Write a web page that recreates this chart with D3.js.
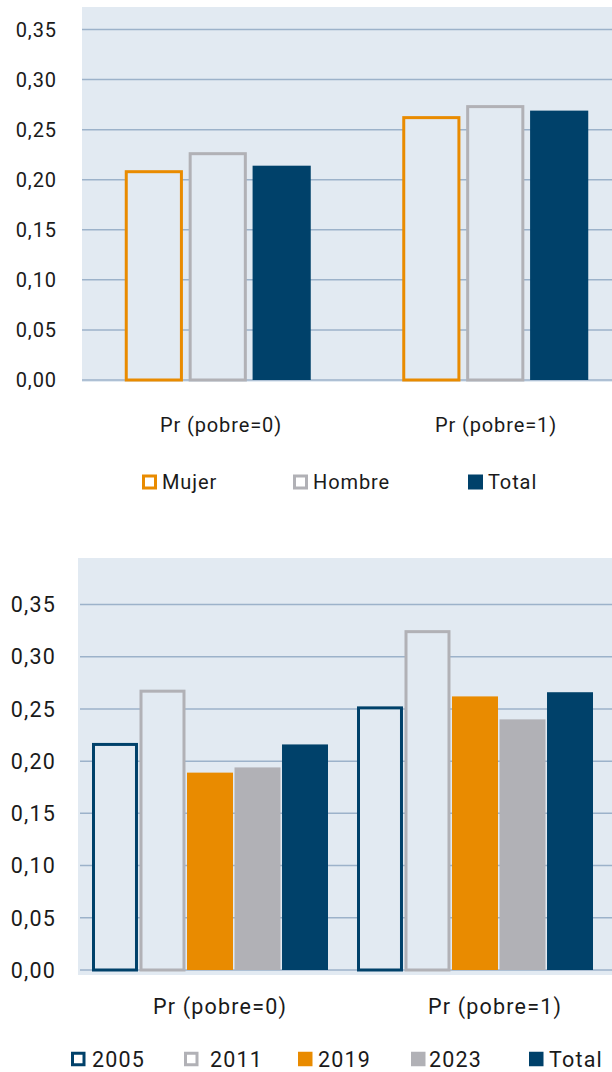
<!DOCTYPE html>
<html>
<head>
<meta charset="utf-8">
<script src="https://cdn.jsdelivr.net/npm/d3@7"></script>
<style>
  html, body { margin: 0; padding: 0; background: #ffffff; }
  svg { display: block; }
  text { font-family: Roboto, "Noto Sans", sans-serif; fill: #1a1a1a; }
</style>
</head>
<body>
<svg id="chart" width="612" height="1072"></svg>
<script>
// ---- data ----
const groups = ["Pr (pobre=0)", "Pr (pobre=1)"];
const yTicks = [0, 0.05, 0.10, 0.15, 0.20, 0.25, 0.30, 0.35];

// Panel 1: by sex
const sexSeries = ["Mujer", "Hombre", "Total"];
const sexMujer  = [0.208, 0.262];
const sexHombre = [0.226, 0.273];
const sexTotal  = [0.214, 0.269];

// Panel 2: by year
const yearSeries = ["2005", "2011", "2019", "2023", "Total"];
const year2005  = [0.216, 0.251];
const year2011  = [0.267, 0.324];
const year2019  = [0.189, 0.262];
const year2023  = [0.194, 0.240];
const yearTotal = [0.216, 0.266];

// ---- styles ----
const NAVY = "#00416a", ORANGE = "#e98b00", GREY = "#b1b1b6";
const PLOT_BG = "#e2eaf2", GRID = "#9cb2ca";

const sexStyle = {
  "Mujer":  { stroke: ORANGE },
  "Hombre": { stroke: GREY },
  "Total":  { fill: NAVY }
};
const yearStyle = {
  "2005":  { stroke: NAVY },
  "2011":  { stroke: GREY },
  "2019":  { fill: ORANGE },
  "2023":  { fill: GREY },
  "Total": { fill: NAVY }
};

const fmt = v => d3.format(".2f")(v).replace(".", ",");
const svg = d3.select("#chart");

function drawPanel(cfg) {
  const g = svg.append("g");
  const y = d3.scaleLinear().domain([0, 0.35]).range([cfg.yZero, cfg.yTop]);

  // plot area
  g.append("rect")
    .attr("x", cfg.bgLeft).attr("y", cfg.bgTop)
    .attr("width", 612 - cfg.bgLeft).attr("height", cfg.bgBottom - cfg.bgTop)
    .attr("fill", PLOT_BG);

  // gridlines
  g.selectAll(".grid").data(yTicks).join("line")
    .attr("x1", cfg.gridLeft).attr("x2", 612)
    .attr("y1", d => y(d)).attr("y2", d => y(d))
    .attr("stroke", GRID).attr("stroke-width", 1.5);

  // y tick labels
  g.selectAll(".ylab").data(yTicks).join("text")
    .attr("x", cfg.labelRight).attr("y", d => y(d))
    .attr("dy", "0.36em").attr("text-anchor", "end")
    .style("font-size", cfg.fontSize + "px")
    .style("letter-spacing", cfg.spacing + "px")
    .text(fmt);

  // scales for bars
  const x0 = d3.scaleBand().domain(groups).range(cfg.groupRange).padding(0);
  const x1 = d3.scaleBand().domain(cfg.series).range(cfg.innerRange)
    .paddingInner(cfg.innerPad).paddingOuter(0);

  const rows = [];
  groups.forEach((grp, i) => {
    cfg.series.forEach((s, j) => {
      rows.push({ grp, s, v: cfg.values[j][i] });
    });
  });

  const sw = cfg.strokeWidth;
  g.selectAll(".bar").data(rows).join("rect")
    .attr("x", d => x0(d.grp) + x1(d.s) + (cfg.style[d.s].stroke ? sw / 2 : 0))
    .attr("width", d => x1.bandwidth() - (cfg.style[d.s].stroke ? sw : 0))
    .attr("y", d => y(d.v))
    .attr("height", d => y(0) - y(d.v))
    .attr("fill", d => cfg.style[d.s].fill || PLOT_BG)
    .attr("stroke", d => cfg.style[d.s].stroke || "none")
    .attr("stroke-width", d => cfg.style[d.s].stroke ? sw : 0);

  // category labels
  const xl = d3.scaleBand().domain(groups).range(cfg.labelRange).padding(0);
  g.selectAll(".xlab").data(groups).join("text")
    .attr("x", d => xl(d) + xl.bandwidth() / 2)
    .attr("y", cfg.catY).attr("dy", "0.36em")
    .attr("text-anchor", "middle")
    .style("font-size", cfg.fontSize + "px")
    .style("letter-spacing", cfg.spacing + "px")
    .text(d => d);

  // legend
  const lg = g.selectAll(".leg").data(cfg.series).join("g")
    .attr("transform", (d, i) => `translate(${cfg.legendX[i]},${cfg.legendY})`);
  const ls = cfg.legendBox;
  lg.append("rect")
    .attr("x", d => cfg.style[d].stroke ? 1.5 : 0)
    .attr("y", d => -ls / 2 + (cfg.style[d].stroke ? 1.5 : 0))
    .attr("width", d => ls - (cfg.style[d].stroke ? 3 : 0))
    .attr("height", d => ls - (cfg.style[d].stroke ? 3 : 0))
    .attr("fill", d => cfg.style[d].fill || "#ffffff")
    .attr("stroke", d => cfg.style[d].stroke || "none")
    .attr("stroke-width", 3);
  lg.append("text")
    .attr("x", (d, i) => cfg.legendTextDx[i]).attr("y", 0).attr("dy", "0.36em")
    .style("font-size", cfg.fontSize + "px")
    .style("letter-spacing", cfg.spacing + "px")
    .text(d => d);
}

drawPanel({
  series: sexSeries,
  values: [sexMujer, sexHombre, sexTotal],
  style: sexStyle,
  bgLeft: 82, bgTop: 7, bgBottom: 382, gridLeft: 82,
  yZero: 380, yTop: 29.5,
  labelRight: 57,
  fontSize: 20, spacing: 0.9,
  groupRange: [79, 634],
  innerRange: [45.75, 231.75], innerPad: 0.09,
  strokeWidth: 3,
  labelRange: [83.5, 633.5], catY: 425,
  legendY: 482, legendBox: 15,
  legendX: [142, 293, 468],
  legendTextDx: [20, 20, 20]
});

drawPanel({
  series: yearSeries,
  values: [year2005, year2011, year2019, year2023, yearTotal],
  style: yearStyle,
  bgLeft: 78, bgTop: 558, bgBottom: 975, gridLeft: 80,
  yZero: 970, yTop: 604.5,
  labelRight: 56,
  fontSize: 21.5, spacing: 1.2,
  groupRange: [77.5, 607.5],
  innerRange: [14.5, 250.5], innerPad: 0.032,
  strokeWidth: 3,
  labelRange: [82.5, 632.5], catY: 1006,
  legendY: 1059, legendBox: 14.5,
  legendX: [71, 184, 298, 411, 529],
  legendTextDx: [21, 26, 20, 18, 20]
});
</script>
</body>
</html>
